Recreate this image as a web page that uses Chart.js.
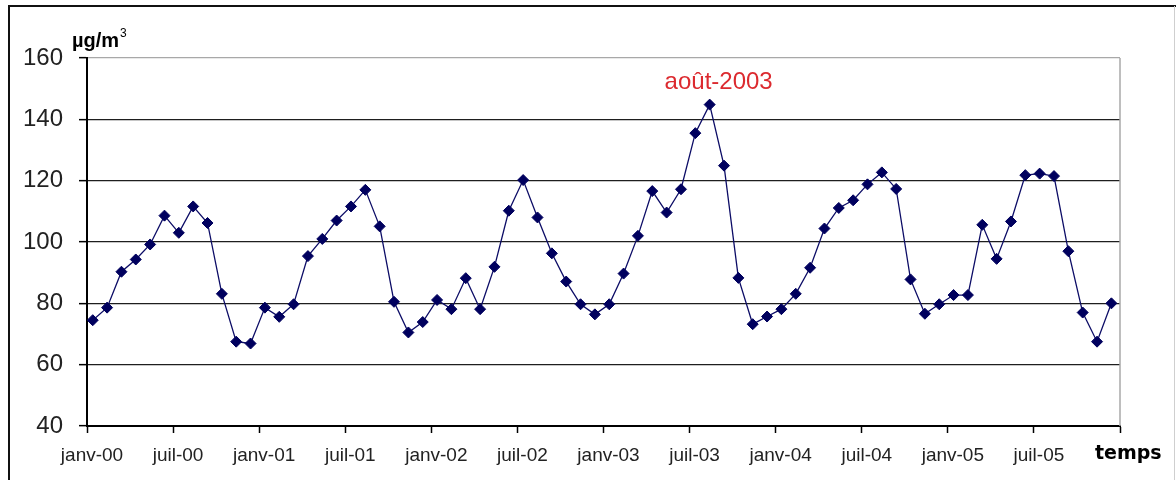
<!DOCTYPE html>
<html>
<head>
<meta charset="utf-8">
<script src="https://cdn.jsdelivr.net/npm/chart.js@4/dist/chart.umd.min.js"></script>
<style>
  html, body { margin: 0; padding: 0; background: #fff; }
  #wrap { width: 1176px; height: 480px; }
</style>
</head>
<body>
<div id="wrap"><canvas id="c" width="1176" height="480"></canvas></div>
<script>
// Monthly mean concentrations, janv-2000 .. déc-2005 (µg/m³)
const values2000 = [74.5, 78.6, 90.3, 94.3, 99.2, 108.6, 103.0, 111.6, 106.2, 83.1, 67.5, 66.9];
const values2001 = [78.6, 75.6, 79.7, 95.4, 101.0, 107.0, 111.6, 117.0, 105.1, 80.5, 70.5, 73.9];
const values2002 = [81.1, 78.1, 88.2, 78.1, 91.9, 110.2, 120.2, 108.0, 96.3, 87.1, 79.7, 76.4];
const values2003 = [79.7, 89.7, 102.0, 116.6, 109.6, 117.2, 135.5, 144.8, 124.9, 88.3, 73.2, 75.7];
const values2004 = [78.1, 83.1, 91.6, 104.4, 111.1, 113.6, 118.8, 122.7, 117.3, 87.8, 76.6, 79.7];
const values2005 = [82.7, 82.7, 105.6, 94.5, 106.7, 121.8, 122.3, 121.5, 97.0, 77.0, 67.5, 80.0];
const monthlyValues = [].concat(values2000, values2001, values2002, values2003, values2004, values2005);

// Tick labels, one every 6 months (month index 0, 6, ..., 72)
const tickLabels = ['janv-00','juil-00','janv-01','juil-01','janv-02','juil-02','janv-03','juil-03','janv-04','juil-04','janv-05','juil-05',''];
const yTicks = [40, 60, 80, 100, 120, 140, 160];
const unitLabel = 'µg/m';
const unitSup = '3';
const xTitle = 'temps';
const peakLabel = 'août-2003';

// each value is a monthly mean, placed near mid-month on the month axis
const points = monthlyValues.map((v, i) => ({ x: i + 0.4, y: v }));

const decor = {
  id: 'decor',
  beforeDraw(chart) {
    const ctx = chart.ctx;
    ctx.save();
    ctx.fillStyle = '#fff';
    ctx.fillRect(0, 0, chart.width, chart.height);
    ctx.restore();
  },
  afterDraw(chart) {
    const { ctx, chartArea: a } = chart;
    ctx.save();
    // grey right border of the plot area
    ctx.strokeStyle = '#a8a8a8';
    ctx.lineWidth = 1.5;
    ctx.beginPath();
    ctx.moveTo(a.right, a.top);
    ctx.lineTo(a.right, a.bottom);
    ctx.stroke();
    // outer frame
    ctx.strokeStyle = '#111';
    ctx.lineWidth = 2;
    ctx.beginPath();
    ctx.moveTo(9, chart.height);
    ctx.lineTo(9, 6);
    ctx.lineTo(chart.width, 6);
    ctx.stroke();
    ctx.strokeStyle = '#cfcfcf';
    ctx.lineWidth = 1;
    ctx.beginPath();
    ctx.moveTo(1174.5, 6);
    ctx.lineTo(1174.5, chart.height);
    ctx.stroke();

    // unit label
    ctx.fillStyle = '#000';
    ctx.textBaseline = 'alphabetic';
    ctx.textAlign = 'left';
    ctx.font = 'bold 20px "Liberation Sans", Arial, sans-serif';
    ctx.fillText(unitLabel, 72, 47);
    const w = ctx.measureText(unitLabel).width;
    ctx.font = '12px "Liberation Sans", Arial, sans-serif';
    ctx.fillText(unitSup, 72 + w + 1, 37);

    // x title
    ctx.font = 'bold 19px "DejaVu Sans", Verdana, sans-serif';
    ctx.fillText(xTitle, 1095, 459);

    // peak annotation
    const data = chart.data.datasets[0].data;
    let pk = 0;
    data.forEach((p, i) => { if (p.y > data[pk].y) pk = i; });
    const pt = chart.getDatasetMeta(0).data[pk];
    ctx.fillStyle = '#dc2a2f';
    ctx.textAlign = 'center';
    ctx.font = '24px "Liberation Sans", Arial, sans-serif';
    ctx.fillText(peakLabel, pt.x + 9, pt.y - 15.5);
    ctx.restore();
  }
};

new Chart(document.getElementById('c'), {
  type: 'line',
  data: {
    datasets: [{
      data: points,
      borderColor: '#0c0c66',
      borderWidth: 1.3,
      backgroundColor: '#00005e',
      pointStyle: 'rectRot',
      pointRadius: 5.5,
      pointBackgroundColor: '#00005e',
      pointBorderColor: '#00005e',
      pointBorderWidth: 1,
      tension: 0,
      fill: false
    }]
  },
  options: {
    responsive: false,
    animation: false,
    events: [],
    layout: { padding: { left: 0, right: 56, top: 58, bottom: 0 } },
    plugins: { legend: { display: false }, tooltip: { enabled: false }, title: { display: false } },
    scales: {
      x: {
        type: 'linear',
        min: 0,
        max: 72,
        afterFit(s) { s.height = 54; },
        afterBuildTicks(s) { s.ticks = tickLabels.map((_, i) => ({ value: i * 6 })); },
        border: { display: true, color: '#000', width: 2 },
        grid: { display: true, drawOnChartArea: false, drawTicks: true, tickLength: 7, tickColor: '#000', tickWidth: 1.5 },
        ticks: {
          autoSkip: false,
          maxRotation: 0,
          labelOffset: 5,
          padding: 11,
          color: '#222',
          font: { family: '"Liberation Sans", Arial, sans-serif', size: 19 },
          callback: (v) => tickLabels[Math.round(v / 6)] ?? ''
        }
      },
      y: {
        min: 40,
        max: 160,
        afterFit(s) { s.width = 87; },
        afterBuildTicks(s) { s.ticks = yTicks.map(v => ({ value: v })); },
        border: { display: true, color: '#000', width: 2 },
        grid: {
          color: (ctx) => (ctx.tick && ctx.tick.value === 160) ? '#a8a8a8' : '#1e1e1e',
          lineWidth: 1.3,
          tickLength: 8,
          tickColor: '#000',
          tickWidth: 1.5
        },
        ticks: {
          padding: 16,
          color: '#222',
          font: { family: '"Liberation Sans", Arial, sans-serif', size: 24 }
        }
      }
    }
  },
  plugins: [decor]
});
</script>
</body>
</html>
